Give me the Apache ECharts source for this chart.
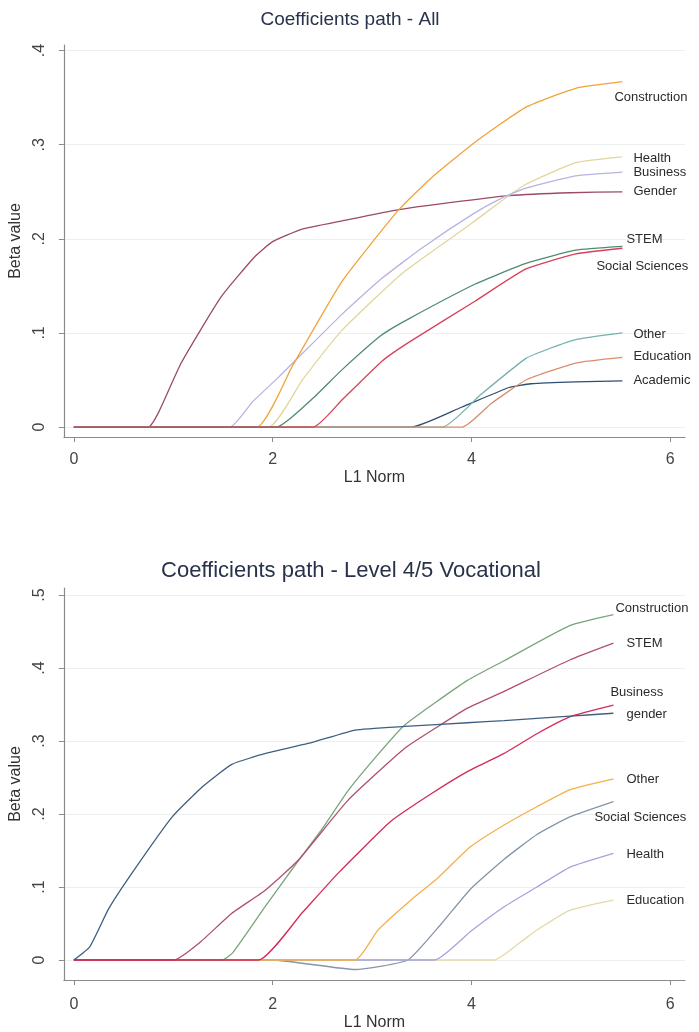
<!DOCTYPE html>
<html>
<head>
<meta charset="UTF-8">
<title>Coefficients path</title>
<script src="https://cdn.jsdelivr.net/npm/echarts@6/dist/echarts.min.js"></script>
<style>
  body { margin: 0; background: #fff; }
  #chart { width: 699px; height: 1032px; }
</style>
</head>
<body>
<div id="chart"></div>
<script>
// tick values
var xTicks = [0, 2, 4, 6];
var yTicksAll = [0, 0.1, 0.2, 0.3, 0.4];
var yTicksVoc = [0, 0.1, 0.2, 0.3, 0.4, 0.5];

// panel 1: All  -- [L1 norm, beta]
var allGender = [[0,0],[0.75,0],[0.85,0.015],[1.08,0.068],[1.48,0.138],[1.82,0.181],[2.0,0.197],[2.29,0.21],[2.7,0.219],[3.27,0.231],[3.9,0.24],[4.38,0.246],[5.0,0.249],[5.52,0.25]];
var allConstruction = [[0,0],[1.84,0],[2.2,0.065],[2.7,0.155],[3.27,0.231],[3.6,0.265],[4.04,0.303],[4.55,0.34],[5.05,0.36],[5.52,0.367]];
var allHealth = [[0,0],[1.96,0],[2.3,0.05],[2.7,0.103],[3.3,0.163],[4.01,0.217],[4.3,0.24],[4.55,0.258],[5.05,0.281],[5.52,0.287]];
var allBusiness = [[0,0],[1.57,0],[1.8,0.027],[2.06,0.053],[2.7,0.12],[3.1,0.158],[3.5,0.19],[4.01,0.226],[4.3,0.243],[4.55,0.254],[5.05,0.267],[5.52,0.271]];
var allSTEM = [[0,0],[2.04,0],[2.4,0.03],[2.7,0.061],[3.1,0.098],[3.37,0.115],[4.04,0.152],[4.55,0.174],[5.05,0.188],[5.52,0.192]];
var allSocial = [[0,0],[2.41,0],[2.7,0.029],[3.1,0.07],[3.37,0.09],[4.04,0.134],[4.55,0.168],[5.05,0.184],[5.52,0.19]];
var allOther = [[0,0],[3.71,0],[4.1,0.035],[4.55,0.073],[4.8,0.084],[5.05,0.093],[5.52,0.1]];
var allEducation = [[0,0],[3.91,0],[4.2,0.025],[4.55,0.05],[5.05,0.068],[5.52,0.074]];
var allAcademic = [[0,0],[3.4,0],[3.9,0.021],[4.38,0.042],[4.6,0.046],[5.05,0.048],[5.52,0.049]];

// panel 2: Level 4/5 Vocational
var vocGender = [[0,0],[0.16,0.018],[0.35,0.07],[0.59,0.12],[0.99,0.196],[1.3,0.238],[1.59,0.268],[1.93,0.283],[2.4,0.298],[2.83,0.315],[3.33,0.32],[3.96,0.325],[4.33,0.328],[4.99,0.334],[5.43,0.338]];
var vocConstruction = [[0,0],[1.49,0],[1.6,0.01],[1.93,0.074],[2.2,0.125],[2.5,0.18],[2.76,0.232],[3.05,0.28],[3.33,0.322],[3.96,0.383],[4.33,0.41],[4.99,0.458],[5.43,0.473]];
var vocSTEM = [[0,0],[1.01,0],[1.26,0.023],[1.59,0.064],[1.93,0.096],[2.26,0.137],[2.76,0.219],[3.33,0.29],[3.69,0.322],[3.96,0.345],[4.33,0.368],[4.99,0.411],[5.43,0.434]];
var vocBusiness = [[0,0],[1.86,0],[2.3,0.065],[2.66,0.119],[3.19,0.19],[3.6,0.228],[3.96,0.258],[4.33,0.283],[4.66,0.31],[4.99,0.333],[5.43,0.349]];
var vocOther = [[0,0],[2.83,0],[3.06,0.041],[3.39,0.082],[3.66,0.112],[3.99,0.155],[4.33,0.185],[4.66,0.21],[4.99,0.233],[5.43,0.248]];
var vocSocial = [[0,0],[2.0,0],[2.83,-0.013],[3.36,0],[3.7,0.05],[3.99,0.097],[4.33,0.138],[4.66,0.172],[4.99,0.196],[5.43,0.217]];
var vocHealth = [[0,0],[3.63,0],[4.0,0.04],[4.33,0.073],[4.66,0.1],[4.99,0.127],[5.43,0.146]];
var vocEducation = [[0,0],[4.23,0],[4.5,0.025],[4.66,0.041],[4.99,0.068],[5.43,0.082]];

var FONT = '"Liberation Sans", Arial, sans-serif';

function tickFmt(v) {
  if (Math.abs(v) < 1e-9) return '0';
  return String(Math.round(v * 10) / 10).replace('0.', '.');
}

function line(name, data, color, gi, off) {
  return {
    name: name,
    type: 'line',
    xAxisIndex: gi,
    yAxisIndex: gi,
    data: data,
    showSymbol: false,
    smooth: 0.15,
    lineStyle: { color: color, width: 1.3 },
    itemStyle: { color: color },
    emphasis: { disabled: true },
    endLabel: {
      show: true,
      formatter: name,
      distance: 0,
      offset: off,
      color: '#2b2b2b',
      fontSize: 13,
      fontFamily: FONT
    }
  };
}

function xAx(gi, margin, gap) {
  return {
    gridIndex: gi,
    type: 'value',
    min: -0.1,
    max: 6.15,
    name: 'L1 Norm',
    nameLocation: 'middle',
    nameGap: gap,
    nameTextStyle: { color: '#333', fontSize: 16, fontFamily: FONT },
    axisLine: { onZero: false, lineStyle: { color: '#8a8a8a', width: 1.2 } },
    axisTick: { customValues: xTicks, length: 5, lineStyle: { color: '#8a8a8a' } },
    axisLabel: { customValues: xTicks, margin: margin, color: '#444', fontSize: 16, fontFamily: FONT },
    splitLine: { show: false }
  };
}

function yAx(gi, ticks, mn, mx) {
  return {
    gridIndex: gi,
    type: 'value',
    min: mn,
    max: mx,
    name: 'Beta value',
    nameLocation: 'middle',
    nameGap: 34,
    nameTextStyle: { color: '#333', fontSize: 16, fontFamily: FONT },
    axisLine: { show: true, onZero: false, lineStyle: { color: '#8a8a8a', width: 1.2 } },
    axisTick: { show: true, customValues: ticks, length: 5, lineStyle: { color: '#8a8a8a' } },
    axisLabel: { customValues: ticks, rotate: 90, margin: 16, color: '#444', fontSize: 16, fontFamily: FONT, formatter: tickFmt },
    splitLine: { show: true, lineStyle: { color: '#eef0f0', width: 1 } }
  };
}

var chart = echarts.init(document.getElementById('chart'));
var option = {
  animation: false,
  backgroundColor: '#ffffff',
  title: [
    { text: 'Coefficients path - All', left: 345, top: 5, textAlign: 'center',
      textStyle: { color: '#28324a', fontSize: 19, fontWeight: 'normal', fontFamily: FONT } },
    { text: 'Coefficients path - Level 4/5 Vocational', left: 346, top: 555, textAlign: 'center',
      textStyle: { color: '#28324a', fontSize: 22, fontWeight: 'normal', fontFamily: FONT } }
  ],
  grid: [
    { left: 63, top: 45, width: 622, height: 392 },
    { left: 63, top: 588, width: 622, height: 392 }
  ],
  xAxis: [xAx(0, 15, 33), xAx(1, 17, 35)],
  yAxis: [yAx(0, yTicksAll, -0.0106, 0.406), yAx(1, yTicksVoc, -0.0274, 0.5096)],
  series: [
    line('Gender', allGender, '#9b4a68', 0, [11, 0]),
    line('Health', allHealth, '#e2d69c', 0, [11, 1]),
    line('Business', allBusiness, '#b7b4e2', 0, [11, 0]),
    line('Construction', allConstruction, '#f2a33a', 0, [-8, 16]),
    line('Academic', allAcademic, '#2f4f6f', 0, [11, 0]),
    line('Other', allOther, '#76b0ad', 0, [11, 1]),
    line('Education', allEducation, '#d98e6a', 0, [11, -1]),
    line('STEM', allSTEM, '#4f8b73', 0, [4, -7]),
    line('Social Sciences', allSocial, '#d8415a', 0, [-26, 18]),

    line('Education', vocEducation, '#e4daa6', 1, [13, 0]),
    line('Social Sciences', vocSocial, '#8596a8', 1, [-19, 16]),
    line('Health', vocHealth, '#a4a4dc', 1, [13, 1]),
    line('Other', vocOther, '#f5b04a', 1, [13, 0]),
    line('Construction', vocConstruction, '#7aa47a', 1, [2, -6]),
    line('STEM', vocSTEM, '#b05070', 1, [13, 0]),
    line('Business', vocBusiness, '#d42a56', 1, [-3, -13]),
    line('gender', vocGender, '#3f5f7f', 1, [13, 1])
  ]
};
chart.setOption(option);
</script>
</body>
</html>
